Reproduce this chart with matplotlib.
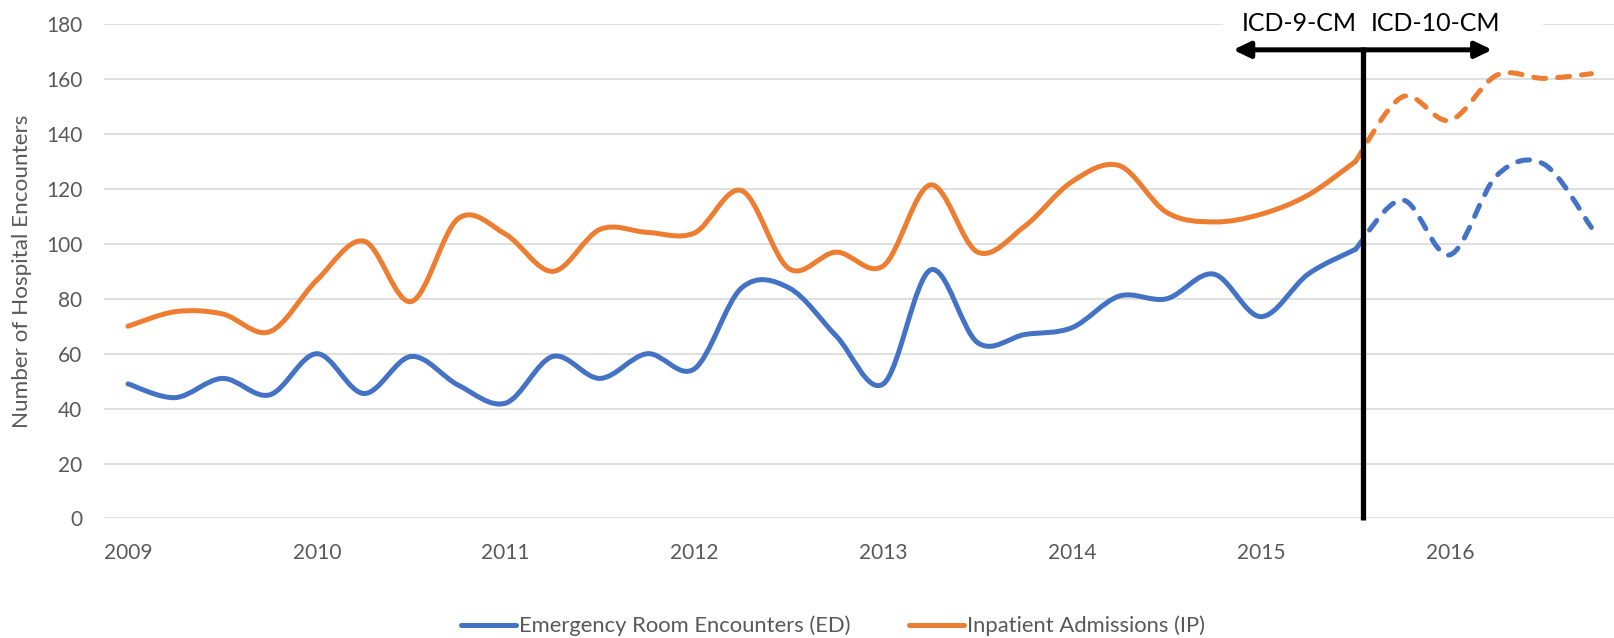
import numpy as np
import matplotlib
matplotlib.use("Agg")
import matplotlib.pyplot as plt
from matplotlib.path import Path
from matplotlib.patches import PathPatch, Rectangle
from matplotlib.lines import Line2D

plt.rcParams["font.family"] = ["Lato", "DejaVu Sans"]

# ---- data (quarterly, 2009 Q1 .. 2016 Q4) ----
year_labels = ["2009", "2010", "2011", "2012", "2013", "2014", "2015", "2016"]
ed_values = [49, 44, 51, 45, 60, 45.5, 59, 48.5,
             42, 59, 51, 60, 54.5, 84, 84, 66.5,
             49, 90.5, 64, 67, 69.5, 81, 80, 89,
             73.5, 89, 98, 116, 96, 125, 129, 106]
ip_values = [70, 75.3, 74.5, 68, 86.8, 101, 79, 109.3,
             103.5, 90, 105.3, 104.2, 104, 119.4, 91, 97,
             92, 121.5, 97, 106.5, 122.7, 128.5, 111.5, 108,
             110.8, 117.8, 130, 153.6, 145, 161.5, 160.3, 162]
transition_index = 26          # ICD-10-CM transition (Oct 2015)
series_names = ["Emergency Room Encounters (ED)", "Inpatient Admissions (IP)"]
colors = ["#4472C4", "#ED7D31"]

x = np.arange(len(ed_values))


def smooth_path(xs, ys):
    """Excel-like smoothed line as cubic Bezier segments through the points."""
    P = np.column_stack([xs, ys]).astype(float)
    n = len(P)
    verts = [P[0]]
    codes = [Path.MOVETO]
    for i in range(n - 1):
        p_prev = P[i - 1] if i > 0 else P[i]
        p_next = P[i + 2] if i + 2 < n else P[i + 1]
        c1 = P[i] + (P[i + 1] - p_prev) / 6.0
        c2 = P[i + 1] - (p_next - P[i]) / 6.0
        verts += [c1, c2, P[i + 1]]
        codes += [Path.CURVE4] * 3
    return Path(verts, codes)


W, H = 1615, 638
fig = plt.figure(figsize=(W / 100, H / 100), dpi=100)
ax = fig.add_axes([104.4 / W, (H - 518.4) / H, 1 - 104.4 / W, (518.4 - 24.3) / H])
ax.set_xlim(-0.5, len(x) - 0.5)
ax.set_ylim(0, 180)

for s in ax.spines.values():
    s.set_visible(False)
ax.set_yticks(np.arange(0, 181, 20))
ax.yaxis.grid(True, color="#D9D9D9", lw=1.2, zorder=0)
ax.set_axisbelow(True)
ax.set_xticks(x[::4])
ax.set_xticklabels(year_labels)
ax.tick_params(axis="both", length=0, labelsize=15, labelcolor="#595959")
ax.tick_params(axis="x", pad=18)
ax.tick_params(axis="y", pad=16)
ax.set_ylabel("Number of Hospital Encounters", fontsize=16.2, color="#595959", labelpad=10)

lw = 3.6
for vals, c in zip([ed_values, ip_values], colors):
    v = np.asarray(vals, float)
    k = transition_index
    solid = PathPatch(smooth_path(x[:k + 1], v[:k + 1]), fill=False, edgecolor=c,
                      lw=lw, capstyle="round", joinstyle="round", zorder=3)
    dashed = PathPatch(smooth_path(x[k:], v[k:]), fill=False, edgecolor=c,
                       lw=lw, linestyle=(0, (2.4, 2.4)), capstyle="round",
                       joinstyle="round", zorder=3)
    ax.add_patch(solid)
    ax.add_patch(dashed)

# white box behind annotation text (interrupts top gridline)
ax.add_patch(Rectangle((23.2, 174), 6.78, 12, facecolor="white", edgecolor="none",
                       zorder=1, clip_on=False))

# transition marker
vline_x = transition_index + 0.16
arrow_y = 170.7
ax.plot([vline_x, vline_x], [171.6, -0.6], color="black", lw=3.8,
        solid_capstyle="butt", zorder=5, clip_on=False)
ax.annotate("", xy=(23.41, arrow_y), xytext=(28.90, arrow_y),
            arrowprops=dict(arrowstyle="<|-|>,head_length=0.5,head_width=0.24",
                            mutation_scale=20, lw=3.6, color="black",
                            shrinkA=0, shrinkB=0),
            zorder=5, annotation_clip=False)
ax.text(24.81, 177.4, "ICD-9-CM", ha="center", va="baseline", fontsize=18,
        color="black", zorder=6)
ax.text(27.69, 177.4, "ICD-10-CM", ha="center", va="baseline", fontsize=18,
        color="black", zorder=6)

handles = [Line2D([0], [0], color=c, lw=lw, solid_capstyle="round") for c in colors]
fig.legend(handles, series_names, loc="center", bbox_to_anchor=(833 / W, 1 - 626 / H),
           ncol=2, frameon=False, fontsize=15.8, handlelength=2.5, handletextpad=0.14,
           columnspacing=2.7, labelcolor="#595959")

fig.savefig("out.png", dpi=100)
